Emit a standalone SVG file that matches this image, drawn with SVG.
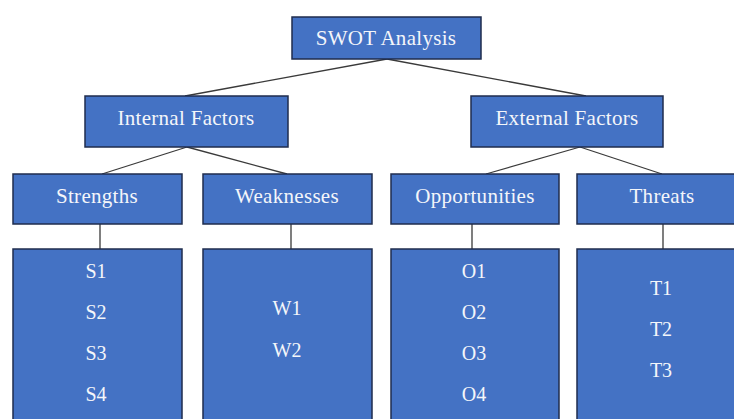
<svg xmlns="http://www.w3.org/2000/svg" width="734" height="419" viewBox="0 0 734 419">
  <style>
    .box { fill: #4472C4; stroke: #1F2D4D; stroke-width: 1.5; }
    .lbl { font-family: "Liberation Serif", "DejaVu Serif", serif; font-size: 21px; fill: #F4F6FA; text-anchor: middle; dominant-baseline: central; letter-spacing: 0.3px; }
    .item { font-family: "Liberation Serif", "DejaVu Serif", serif; font-size: 20px; fill: #F4F6FA; text-anchor: middle; dominant-baseline: central; }
    .link { stroke: #3A3A3A; stroke-width: 1.3; fill: none; }
  </style>
  <rect width="734" height="419" fill="#FFFFFF"/>

  <!-- connectors -->
  <g id="connectors">
    <line class="link" x1="387" y1="59" x2="185" y2="96"/>
    <line class="link" x1="387" y1="59" x2="586" y2="96"/>
    <line class="link" x1="187" y1="147" x2="102" y2="174"/>
    <line class="link" x1="187" y1="147" x2="287" y2="174"/>
    <line class="link" x1="580" y1="147" x2="486" y2="174"/>
    <line class="link" x1="580" y1="147" x2="662" y2="174"/>
    <line class="link" x1="100" y1="224" x2="100" y2="249"/>
    <line class="link" x1="291" y1="224" x2="291" y2="249"/>
    <line class="link" x1="472" y1="224" x2="472" y2="249"/>
    <line class="link" x1="663" y1="224" x2="663" y2="249"/>
  </g>

  <g id="swot">
    <rect class="box" x="292" y="17" width="189" height="42"/>
    <text class="lbl" x="386" y="38">SWOT Analysis</text>
  </g>

  <g id="internal">
    <rect class="box" x="85" y="96" width="203" height="51"/>
    <text class="lbl" x="186" y="118">Internal Factors</text>
  </g>

  <g id="external">
    <rect class="box" x="471" y="96" width="192" height="51"/>
    <text class="lbl" x="567" y="118">External Factors</text>
  </g>

  <g id="strengths">
    <rect class="box" x="13" y="174" width="169" height="50"/>
    <text class="lbl" x="97" y="196">Strengths</text>
  </g>

  <g id="weaknesses">
    <rect class="box" x="203" y="174" width="169" height="50"/>
    <text class="lbl" x="287" y="196">Weaknesses</text>
  </g>

  <g id="opportunities">
    <rect class="box" x="391" y="174" width="168" height="50"/>
    <text class="lbl" x="475" y="196">Opportunities</text>
  </g>

  <g id="threats">
    <rect class="box" x="577" y="174" width="180" height="50"/>
    <text class="lbl" x="662" y="196">Threats</text>
  </g>

  <g id="strengths-list">
    <rect class="box" x="13" y="249" width="169" height="190"/>
    <text class="item" x="96" y="271">S1</text>
    <text class="item" x="96" y="312">S2</text>
    <text class="item" x="96" y="353">S3</text>
    <text class="item" x="96" y="394">S4</text>
  </g>

  <g id="weaknesses-list">
    <rect class="box" x="203" y="249" width="169" height="190"/>
    <text class="item" x="287" y="308">W1</text>
    <text class="item" x="287" y="350">W2</text>
  </g>

  <g id="opportunities-list">
    <rect class="box" x="391" y="249" width="168" height="190"/>
    <text class="item" x="474" y="271">O1</text>
    <text class="item" x="474" y="312">O2</text>
    <text class="item" x="474" y="353">O3</text>
    <text class="item" x="474" y="394">O4</text>
  </g>

  <g id="threats-list">
    <rect class="box" x="577" y="249" width="180" height="190"/>
    <text class="item" x="661" y="288">T1</text>
    <text class="item" x="661" y="329">T2</text>
    <text class="item" x="661" y="370">T3</text>
  </g>
</svg>
